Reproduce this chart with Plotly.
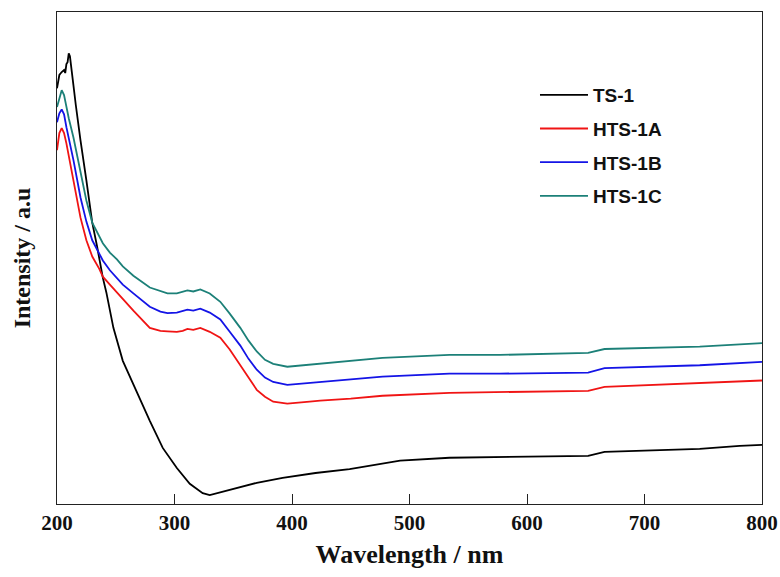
import plotly.graph_objects as go

# UV-vis diffuse reflectance spectra (intensity in arbitrary units)
wl_ts1 = [200, 202, 204, 206, 207, 208, 209, 210, 211, 212, 214, 216, 218, 220, 225, 228,
          230, 234, 239, 242, 248, 256, 262, 268, 279, 290, 302, 313, 324, 330, 333, 340,
          350, 370, 392, 420, 449, 470, 492, 534, 577, 620, 652, 666, 700, 747, 781, 800]
int_ts1 = [0.845, 0.872, 0.878, 0.882, 0.876, 0.894, 0.898, 0.916, 0.910, 0.886, 0.851,
           0.811, 0.780, 0.739, 0.658, 0.603, 0.572, 0.525, 0.460, 0.430, 0.358, 0.291,
           0.259, 0.230, 0.169, 0.114, 0.073, 0.041, 0.022, 0.018, 0.020, 0.024, 0.031,
           0.043, 0.053, 0.063, 0.071, 0.079, 0.088, 0.094, 0.095, 0.096, 0.098, 0.106,
           0.108, 0.112, 0.118, 0.120]

wl_hts = [200, 202, 204, 206, 208, 210, 214, 220, 225, 230, 236, 239, 245, 251, 256, 265,
          279, 288, 294, 302, 307, 311, 316, 322, 330, 339, 347, 356, 363, 370, 377, 384,
          396, 415, 424, 450, 477, 534, 577, 652, 666, 747, 781, 800]
int_hts1a = [0.719, 0.754, 0.764, 0.754, 0.733, 0.709, 0.658, 0.582, 0.536, 0.503, 0.478,
             0.462, 0.446, 0.430, 0.418, 0.393, 0.358, 0.352, 0.351, 0.350, 0.352, 0.356,
             0.354, 0.358, 0.350, 0.338, 0.314, 0.283, 0.257, 0.232, 0.218, 0.208, 0.204,
             0.208, 0.210, 0.214, 0.220, 0.226, 0.227, 0.230, 0.238, 0.245, 0.249, 0.251]
int_hts1b = [0.776, 0.794, 0.802, 0.792, 0.766, 0.745, 0.699, 0.623, 0.574, 0.536, 0.508,
             0.495, 0.475, 0.458, 0.446, 0.428, 0.401, 0.391, 0.388, 0.389, 0.393, 0.395,
             0.393, 0.397, 0.389, 0.375, 0.350, 0.322, 0.295, 0.273, 0.257, 0.248, 0.242,
             0.246, 0.248, 0.253, 0.259, 0.265, 0.265, 0.267, 0.276, 0.282, 0.287, 0.289]
int_hts1c = [0.807, 0.827, 0.841, 0.831, 0.807, 0.784, 0.745, 0.672, 0.617, 0.572, 0.544,
             0.530, 0.511, 0.497, 0.483, 0.464, 0.440, 0.432, 0.428, 0.428, 0.432, 0.434,
             0.432, 0.436, 0.428, 0.411, 0.387, 0.358, 0.332, 0.310, 0.293, 0.285, 0.279,
             0.283, 0.285, 0.291, 0.297, 0.303, 0.303, 0.307, 0.315, 0.320, 0.325, 0.327]

x_ticks = [200, 300, 400, 500, 600, 700, 800]

series = [
    ("TS-1", wl_ts1, int_ts1, "#000000"),
    ("HTS-1A", wl_hts, int_hts1a, "#f01414"),
    ("HTS-1B", wl_hts, int_hts1b, "#1414e6"),
    ("HTS-1C", wl_hts, int_hts1c, "#1c8078"),
]

fig = go.Figure()
for name, x, y, color in series:
    fig.add_trace(go.Scatter(
        x=x, y=y, mode="lines", name=name, legendgroup=name,
        line=dict(color=color, width=1.8),
    ))

serif = "Liberation Serif"
fig.update_layout(
    width=780, height=577,
    margin=dict(l=57, r=18, t=12, b=73, autoexpand=False),
    paper_bgcolor="white", plot_bgcolor="white",
    showlegend=True,
    legend=dict(
        x=0.678, xanchor="left", y=0.87, yanchor="top",
        bgcolor="rgba(0,0,0,0)", borderwidth=0,
        font=dict(family="Liberation Sans", size=19, color="#111111", weight="bold"),
        tracegroupgap=6, itemwidth=48,
    ),
    xaxis=dict(
        range=[200, 800], tickvals=x_ticks, ticktext=[str(v) for v in x_ticks],
        ticks="inside", ticklen=10, tickwidth=1.3, tickcolor="#222222",
        showline=True, linecolor="#222222", linewidth=1.3, mirror=True,
        showgrid=False, zeroline=False, automargin=False,
        tickfont=dict(family=serif, size=21, color="#111111", weight="bold"),
        title=dict(text="Wavelength / nm", standoff=10,
                   font=dict(family=serif, size=26, color="#111111", weight="bold")),
    ),
    yaxis=dict(
        range=[0, 1], showticklabels=False, ticks="",
        showline=True, linecolor="#222222", linewidth=1.3, mirror=True,
        showgrid=False, zeroline=False, automargin=False,
        title=dict(text="Intensity / a.u", standoff=18,
                   font=dict(family=serif, size=24, color="#111111", weight="bold")),
    ),
)

fig.write_html("out.html")
